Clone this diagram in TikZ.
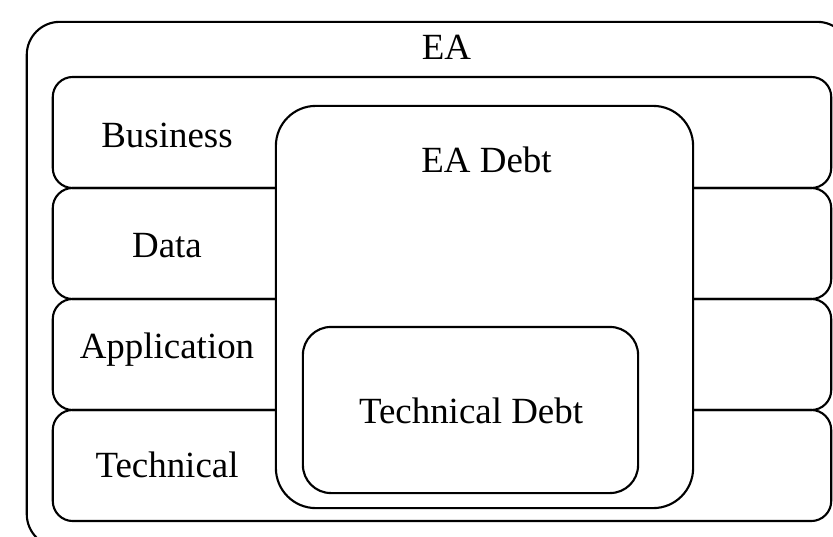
\documentclass[tikz,border=0pt]{standalone}
\usepackage{fontspec}
\setmainfont{Liberation Serif}
\usetikzlibrary{positioning}

\begin{document}
\begin{tikzpicture}[
      x=0.01cm, y=-0.01cm,
      every node/.style={font=\fontsize{10.5}{12.6}\selectfont},
      framebox/.style={rectangle, draw, line width=0.6pt, rounded corners=0.33cm, minimum width=8.23cm, minimum height=5.25cm, inner sep=0pt},
      layerbox/.style={rectangle, draw, line width=0.6pt, rounded corners=0.2cm, minimum width=7.78cm, minimum height=1.11cm, inner sep=0pt},
      debtbox/.style={rectangle, draw, fill=white, line width=0.6pt, inner sep=0pt},
      boxlabel/.style={anchor=base, inner sep=0pt}
    ]
      \useasboundingbox (0,0) rectangle (833,536);
      \clip (0,0) rectangle (833,536);

      % Frame
      \node[framebox] (ea) at (438.5,284.5) {};
      \node[boxlabel] (ealabel) at (446.5,59) {EA};

      % Layers
      \node[layerbox] (business) at (442,132.5) {};
      \node[layerbox] (data) at (442,243.5) {};
      \node[layerbox] (application) at (442,354.5) {};
      \node[layerbox] (technical) at (442,465.5) {};

      \node[boxlabel] (businesslabel) at (167,147) {Business};
      \node[boxlabel] (datalabel) at (167,257) {Data};
      \node[boxlabel] (applicationlabel) at (167,358) {Application};
      \node[boxlabel] (technicallabel) at (167,477) {Technical};

      % Debt boxes
      \node[debtbox, rounded corners=0.4cm, minimum width=4.17cm, minimum height=4.02cm] (eadebt) at (484.5,307) {};
      \node[boxlabel] (eadebtlabel) at (486.5,172) {EA Debt};

      \node[debtbox, rounded corners=0.28cm, minimum width=3.35cm, minimum height=1.66cm] (techdebt) at (470.5,410) {};
      \node[boxlabel] (techdebtlabel) at (471,423) {Technical Debt};
    \end{tikzpicture}
\end{document}
